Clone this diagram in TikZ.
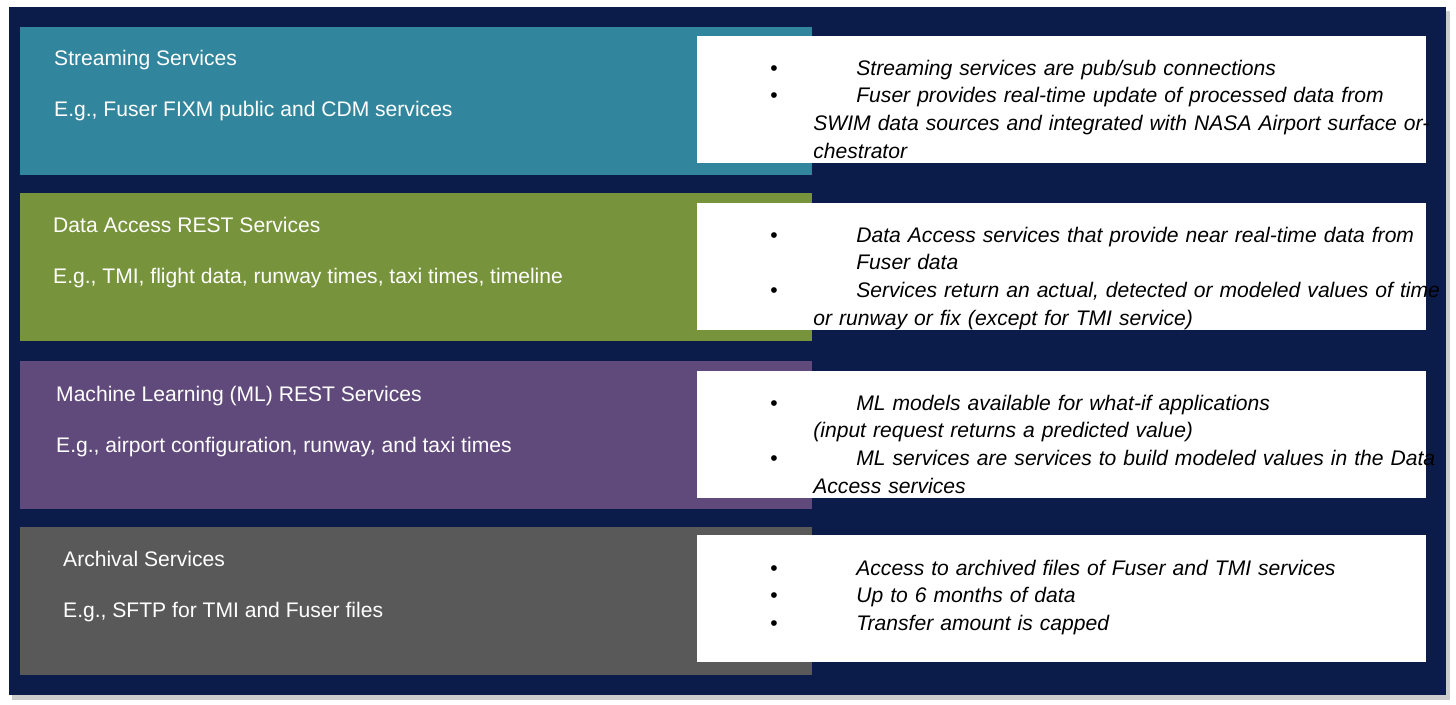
\documentclass[tikz,border=0pt]{standalone}
\usepackage{fontspec}
\setmainfont{Liberation Sans}
\definecolor{navy}{HTML}{0B1B4A}
\definecolor{teal}{HTML}{31859C}
\definecolor{olive}{HTML}{77933C}
\definecolor{plum}{HTML}{604A7B}
\definecolor{slate}{HTML}{595959}
\tikzset{
  band/.style={anchor=north west,minimum width=15.84cm,minimum height=2.96cm,inner sep=0pt},
  note/.style={fill=white,anchor=north west,minimum width=14.58cm,minimum height=2.54cm,inner sep=0pt},
  title/.style={anchor=base west,text=white,font=\fontsize{12}{14}\selectfont},
  bullets/.style={anchor=north west,text width=12.6cm,font=\fontsize{12}{15.8}\selectfont\itshape,inner sep=0pt}
}
\newcommand{\bl}{\par\hangindent=0.86cm\hangafter=1\noindent\makebox[0.86cm][l]{\hspace{-0.86cm}\upshape\textbullet}}
\begin{document}
\begin{tikzpicture}[x=0.02cm,y=-0.02cm]
\useasboundingbox (0,0) rectangle (1456,705);
\fill[white] (0,0) rectangle (1456,705);
\fill[gray!40] (12,11) rectangle (1450,700);
\fill[navy] (9,7) rectangle (1446,695);
% left bands
\node[band,fill=teal] (stream) at (20,27) {};
\node[band,fill=olive] (access) at (20,193) {};
\node[band,fill=plum] (ml) at (20,361) {};
\node[band,fill=slate] (archive) at (20,527) {};
\node[title] at (48,66) {Streaming Services};
\node[title] at (48,117) {E.g., Fuser FIXM public and CDM services};
\node[title] at (47,233) {Data Access REST Services};
\node[title] at (47,284) {E.g., TMI, flight data, runway times, taxi times, timeline};
\node[title] at (50,401) {Machine Learning (ML) REST Services};
\node[title] at (50,453) {E.g., airport configuration, runway, and taxi times};
\node[title] at (57,566) {Archival Services};
\node[title] at (57,617) {E.g., SFTP for TMI and Fuser files};
% right notes
\node[note] (streamnote) at (697,36) {};
\node[note] (accessnote) at (697,203) {};
\node[note] (mlnote) at (697,371) {};
\node[note] (archivenote) at (697,535) {};
\node[bullets] at (813,47) {\bl Streaming services are pub/sub connections
  \bl Fuser provides real-time update of processed data from SWIM data sources and integrated with NASA Airport surface orchestrator};
\node[bullets] at (813,214) {\bl Data Access services that provide near real-time data from Fuser data
  \bl Services return an actual, detected or modeled values of time or runway or fix (except for TMI service)};
\node[bullets] at (813,382) {\bl ML models available for what-if applications\\(input request returns a predicted value)
  \bl ML services are services to build modeled values in the Data Access services};
\node[bullets] at (813,547) {\bl Access to archived files of Fuser and TMI services
  \bl Up to 6 months of data
  \bl Transfer amount is capped};
\end{tikzpicture}
\end{document}
